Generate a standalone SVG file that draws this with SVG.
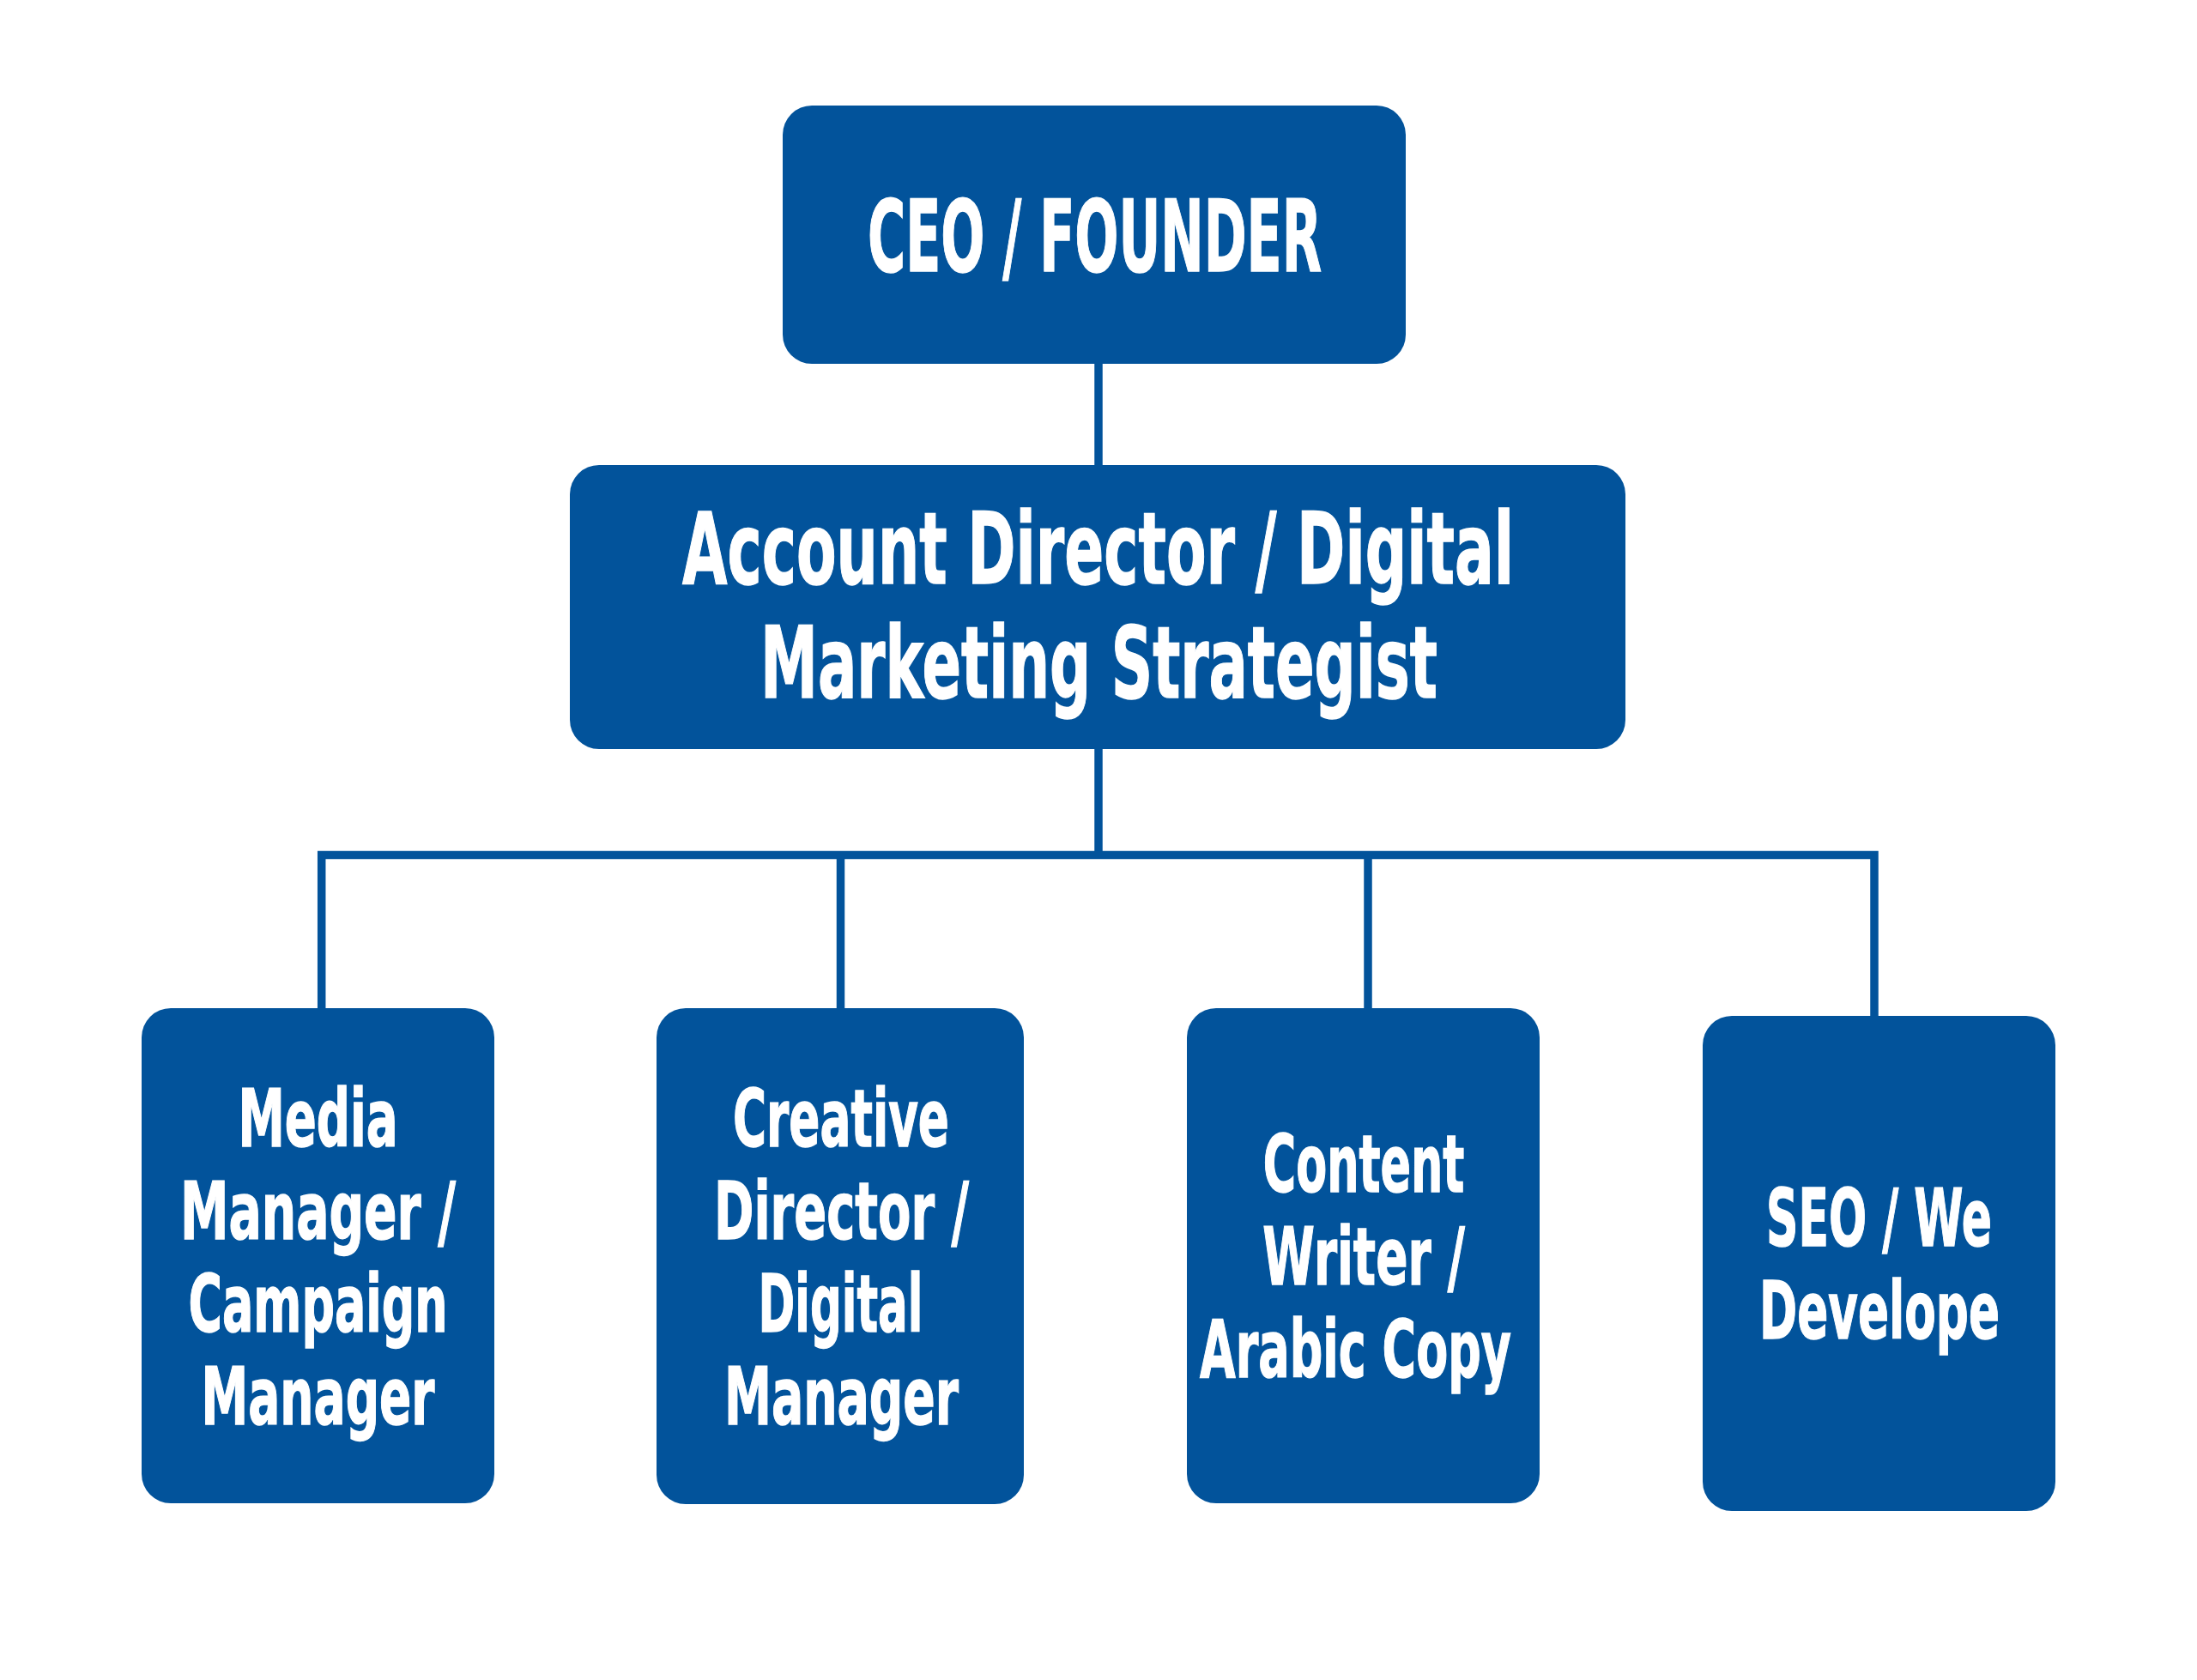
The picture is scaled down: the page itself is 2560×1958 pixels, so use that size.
<svg xmlns="http://www.w3.org/2000/svg" width="2560" height="1958" viewBox="0 0 2560 1958">
<style>
.box{fill:#02539B;}
.lbl{font-family:"DejaVu Sans","Liberation Sans",sans-serif;font-weight:bold;fill:#ffffff;text-anchor:middle;stroke:#ffffff;stroke-width:1.5;}
.big{font-size:115px;}
.sm{font-size:92px;}
.conn{fill:none;stroke:#02539B;stroke-width:9.5;stroke-linejoin:miter;stroke-linecap:butt;}
</style>
<rect width="2560" height="1958" fill="#ffffff"/>
<g id="connectors">
<path class="conn" d="M1280,424 V542"/>
<path class="conn" d="M1280,873 V996.5"/>
<path class="conn" d="M374.7,1175 V996.5 H2184 V1184"/>
<path class="conn" d="M979.5,996.5 V1175"/>
<path class="conn" d="M1594,996.5 V1175"/>
</g>
<g id="ceo">
<rect class="box" x="912" y="123" width="726" height="301" rx="34"/>
<text class="lbl big" x="1275.5" y="316" textLength="529" lengthAdjust="spacingAndGlyphs">CEO / FOUNDER</text>
</g>
<g id="account-director">
<rect class="box" x="664" y="542" width="1230" height="331" rx="34"/>
<text class="lbl big" x="1279.5" y="680" textLength="969" lengthAdjust="spacingAndGlyphs">Account Director / Digital</text>
<text class="lbl big" x="1280.5" y="813" textLength="789" lengthAdjust="spacingAndGlyphs">Marketing Strategist</text>
</g>
<g id="media-manager">
<rect class="box" x="165" y="1175" width="411" height="577" rx="34"/>
<text class="lbl sm" x="370.5" y="1335.5" textLength="186" lengthAdjust="spacingAndGlyphs">Media</text>
<text class="lbl sm" x="370.5" y="1444" textLength="321" lengthAdjust="spacingAndGlyphs">Manager /</text>
<text class="lbl sm" x="370.5" y="1551.5" textLength="302" lengthAdjust="spacingAndGlyphs">Campaign</text>
<text class="lbl sm" x="370.5" y="1660" textLength="272" lengthAdjust="spacingAndGlyphs">Manager</text>
</g>
<g id="creative-director">
<rect class="box" x="765" y="1175" width="428" height="578" rx="34"/>
<text class="lbl sm" x="980" y="1335.5" textLength="252" lengthAdjust="spacingAndGlyphs">Creative</text>
<text class="lbl sm" x="980.5" y="1444" textLength="297" lengthAdjust="spacingAndGlyphs">Director /</text>
<text class="lbl sm" x="979.5" y="1551.5" textLength="192" lengthAdjust="spacingAndGlyphs">Digital</text>
<text class="lbl sm" x="980.5" y="1660" textLength="273" lengthAdjust="spacingAndGlyphs">Manager</text>
</g>
<g id="content-writer">
<rect class="box" x="1383" y="1175" width="411" height="577" rx="34"/>
<text class="lbl sm" x="1589" y="1389" textLength="234.5" lengthAdjust="spacingAndGlyphs">Content</text>
<text class="lbl sm" x="1589" y="1497" textLength="235.5" lengthAdjust="spacingAndGlyphs">Writer /</text>
<text class="lbl sm" x="1579.5" y="1604.5" textLength="363" lengthAdjust="spacingAndGlyphs">Arabic Copy</text>
</g>
<g id="seo-web-developer">
<rect class="box" x="1984" y="1184" width="411" height="577" rx="34"/>
<text class="lbl sm" x="2189.5" y="1452" textLength="263" lengthAdjust="spacingAndGlyphs">SEO / We</text>
<text class="lbl sm" x="2190" y="1560" textLength="280" lengthAdjust="spacingAndGlyphs">Develope</text>
</g>
</svg>
